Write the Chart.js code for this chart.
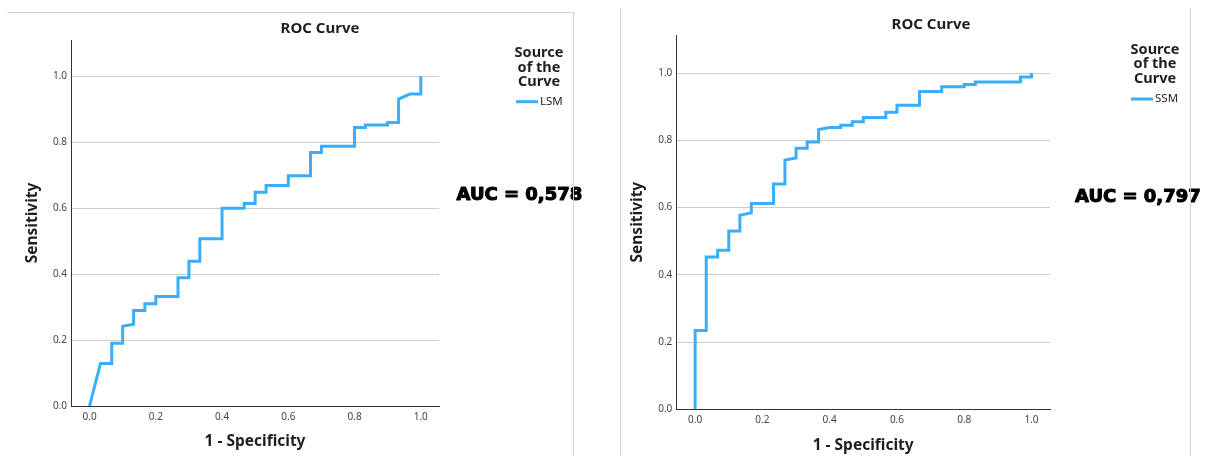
<!DOCTYPE html>
<html>
<head>
<meta charset="utf-8">
<script src="https://cdn.jsdelivr.net/npm/chart.js@4.4.0/dist/chart.umd.min.js"></script>
<style>
  html, body { margin: 0; padding: 0; background: #fff; }
  #page { position: relative; width: 1212px; height: 456px; overflow: hidden; }
  .panel { position: absolute; top: 0; width: 606px; height: 456px; }
  .rule { position: absolute; background: #d0d0d0; pointer-events: none; }
</style>
</head>
<body>
<div id="page">
  <div class="panel" style="left:0"><canvas id="lsmChart" width="606" height="456"></canvas></div>
  <div class="panel" style="left:606px"><canvas id="ssmChart" width="606" height="456"></canvas></div>
  <!-- frame lines of the two SPSS output boxes -->
  <div class="rule" style="left:7px;top:12px;width:567px;height:1px"></div>
  <div class="rule" style="left:573px;top:12px;width:1px;height:444px"></div>
  <div class="rule" style="left:620px;top:8px;width:1px;height:448px"></div>
  <div class="rule" style="left:1190px;top:8px;width:1px;height:448px"></div>
</div>
<script>
// --- Data ---
const xTicks = [0, 0.2, 0.4, 0.6, 0.8, 1.0];
const yTicks = [0, 0.2, 0.4, 0.6, 0.8, 1.0];

const chartTitle = 'ROC Curve';
const legendTitle = ['Source', 'of the', 'Curve'];
const xTitle = '1 - Specificity';
const yTitle = 'Sensitivity';

// LSM curve
const lsmFpr = [0, 0.033, 0.067, 0.067, 0.1, 0.1, 0.133, 0.133, 0.167, 0.167, 0.2, 0.2, 0.267, 0.267,
  0.3, 0.3, 0.333, 0.333, 0.4, 0.4, 0.467, 0.467, 0.5, 0.5, 0.533, 0.533, 0.6, 0.6, 0.667, 0.667,
  0.7, 0.7, 0.8, 0.8, 0.833, 0.833, 0.9, 0.9, 0.933, 0.933, 0.967, 1.0, 1.0];
const lsmTpr = [0, 0.129, 0.129, 0.19, 0.19, 0.242, 0.248, 0.29, 0.29, 0.31, 0.31, 0.332, 0.332, 0.389,
  0.389, 0.439, 0.439, 0.507, 0.507, 0.6, 0.6, 0.614, 0.614, 0.648, 0.648, 0.669, 0.669, 0.698, 0.698, 0.769,
  0.769, 0.788, 0.788, 0.845, 0.845, 0.852, 0.852, 0.86, 0.86, 0.931, 0.946, 0.946, 1.0];

// SSM curve
const ssmFpr = [0, 0, 0.033, 0.033, 0.067, 0.067, 0.1, 0.1, 0.133, 0.133, 0.167, 0.167, 0.233, 0.233,
  0.267, 0.267, 0.3, 0.3, 0.333, 0.333, 0.367, 0.367, 0.4, 0.433, 0.433, 0.467, 0.467, 0.5, 0.5,
  0.567, 0.567, 0.6, 0.6, 0.667, 0.667, 0.733, 0.733, 0.8, 0.8, 0.833, 0.833, 0.967, 0.967, 1.0, 1.0];
const ssmTpr = [0, 0.234, 0.234, 0.453, 0.453, 0.473, 0.473, 0.53, 0.53, 0.577, 0.584, 0.612, 0.612, 0.67,
  0.67, 0.741, 0.747, 0.776, 0.776, 0.795, 0.795, 0.832, 0.838, 0.838, 0.845, 0.845, 0.855, 0.855, 0.868,
  0.868, 0.883, 0.883, 0.904, 0.904, 0.945, 0.945, 0.959, 0.959, 0.966, 0.966, 0.973, 0.973, 0.988, 0.988, 1.0];

const sourceNames = ['LSM', 'SSM'];
const aucLabels = ['AUC = 0,578', 'AUC = 0,797'];

const curveColor = '#3aaefb';

Chart.defaults.font.family = "'Noto Sans', sans-serif";
Chart.defaults.color = '#444';

// Draws title, legend block and the AUC note, placed like the SPSS output
const panelText = {
  id: 'panelText',
  afterDraw(chart, args, o) {
    const ctx = chart.ctx;
    const ds = chart.data.datasets[0];
    ctx.save();
    ctx.textBaseline = 'middle';
    ctx.textAlign = 'center';
    ctx.fillStyle = '#1e1e1e';
    ctx.font = "bold 15px 'Noto Sans'";
    ctx.fillText(chartTitle, o.titleX, o.titleY);

    ctx.font = "bold 14.5px 'Noto Sans'";
    legendTitle.forEach((line, i) => ctx.fillText(line, o.legendX, o.legendY + i * 14.3));

    ctx.strokeStyle = ds.borderColor;
    ctx.lineWidth = 3;
    ctx.beginPath();
    ctx.moveTo(o.swatchX, o.swatchY);
    ctx.lineTo(o.swatchX + 22, o.swatchY);
    ctx.stroke();
    ctx.textAlign = 'left';
    ctx.font = "11.5px 'Noto Sans'";
    ctx.fillText(ds.label, o.swatchX + 24, o.swatchY);

    // heavy black note, stroked a little to get the black-weight look
    ctx.fillStyle = '#000';
    ctx.strokeStyle = '#000';
    ctx.lineWidth = 1.1;
    ctx.lineJoin = 'round';
    ctx.font = "bold 18px 'DejaVu Sans'";
    ctx.fillText(o.auc, o.aucX, o.aucY);
    ctx.strokeText(o.auc, o.aucX, o.aucY);
    ctx.restore();
  }
};

function makePanel(canvasId, fpr, tpr, name, L) {
  const points = fpr.map((x, i) => ({ x: x, y: tpr[i] }));
  return new Chart(document.getElementById(canvasId), {
    type: 'line',
    data: {
      datasets: [{
        label: name,
        data: points,
        borderColor: curveColor,
        borderWidth: 3,
        pointRadius: 0,
        tension: 0,
        fill: false
      }]
    },
    options: {
      responsive: false,
      animation: false,
      layout: { padding: { left: 0, top: L.top, right: L.padRight, bottom: 0 } },
      scales: {
        x: {
          type: 'linear',
          min: -0.056,
          max: 1.055,
          afterBuildTicks: s => { s.ticks = xTicks.map(v => ({ value: v })); },
          afterFit: s => { s.height = L.xHeight; },
          grid: { display: false, drawTicks: false },
          border: { display: true, color: '#333', width: 1 },
          ticks: { padding: 5, font: { size: 10 }, callback: v => v.toFixed(1) },
          title: {
            display: true, text: xTitle, color: '#1e1e1e',
            font: { size: 15.5, weight: 'bold', lineHeight: 1.2 },
            padding: { top: 0, bottom: L.xTitlePad }
          }
        },
        y: {
          min: 0,
          max: L.yMax,
          afterBuildTicks: s => { s.ticks = yTicks.map(v => ({ value: v })); },
          afterFit: s => { s.width = L.yWidth; },
          grid: {
            drawTicks: false,
            color: c => (c.tick && c.tick.value === 0) ? 'rgba(0,0,0,0)' : '#cccccc'
          },
          border: { display: true, color: '#333', width: 1 },
          ticks: { padding: 4, font: { size: 10 }, callback: v => v.toFixed(1) },
          title: {
            display: true, text: yTitle, color: '#1e1e1e',
            font: { size: 15.5, weight: 'bold', lineHeight: 1.2 },
            padding: { top: L.yTitlePad, bottom: 0 }
          }
        }
      },
      plugins: {
        legend: { display: false },
        title: { display: false },
        tooltip: { enabled: false },
        panelText: L.text
      }
    },
    plugins: [panelText]
  });
}

makePanel('lsmChart', lsmFpr, lsmTpr, sourceNames[0], {
  top: 40, padRight: 167, xHeight: 50, yWidth: 71, yMax: 1.11,
  xTitlePad: 4.7, yTitlePad: 23.7,
  text: { titleX: 320, titleY: 29, legendX: 539, legendY: 53.3, swatchX: 516, swatchY: 101.7,
          auc: aucLabels[0], aucX: 456.5, aucY: 195 }
});

makePanel('ssmChart', ssmFpr, ssmTpr, sourceNames[1], {
  top: 35, padRight: 162, xHeight: 46.7, yWidth: 70.3, yMax: 1.113,
  xTitlePad: 0.7, yTitlePad: 22.4,
  text: { titleX: 325, titleY: 25, legendX: 549, legendY: 50, swatchX: 525, swatchY: 99,
          auc: aucLabels[1], aucX: 469, aucY: 197 }
});
</script>
</body>
</html>
